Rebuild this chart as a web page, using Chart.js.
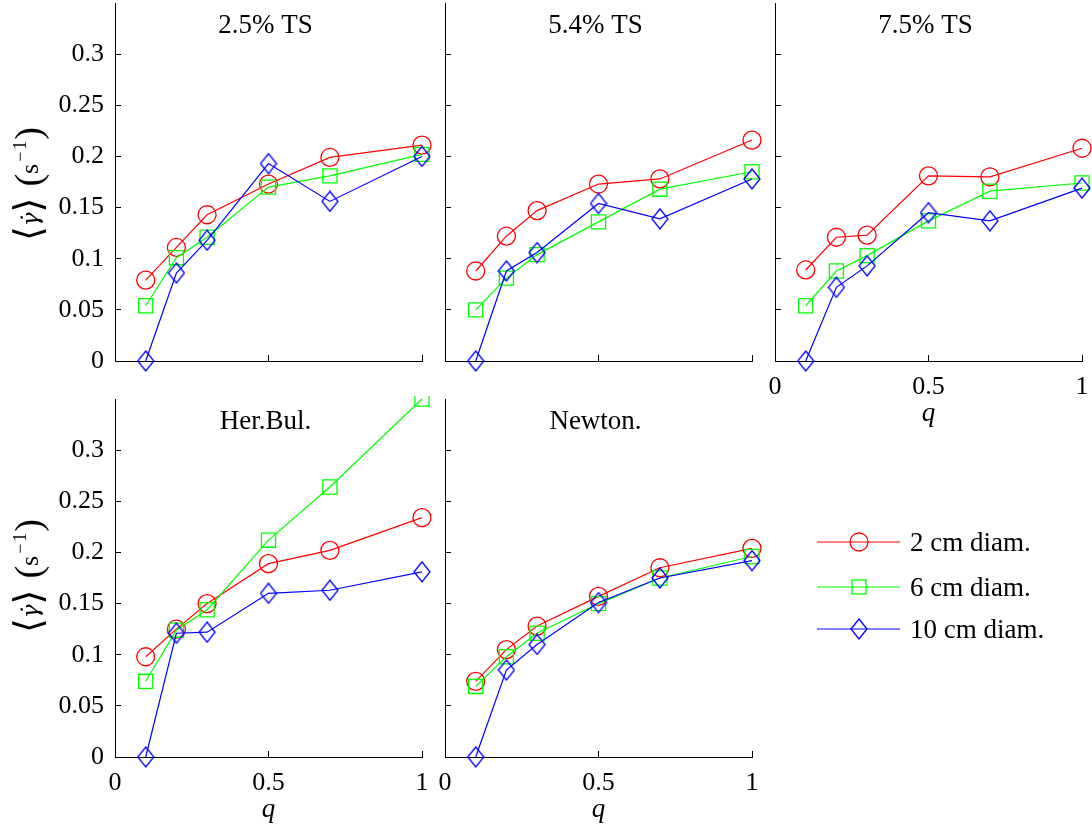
<!DOCTYPE html>
<html>
<head>
<meta charset="utf-8">
<script src="https://cdn.jsdelivr.net/npm/chart.js@4.4.0/dist/chart.umd.min.js"></script>
<style>
  html, body { margin: 0; padding: 0; background: #fff; }
  #wrap { position: relative; width: 1092px; height: 830px; overflow: hidden; }
  #wrap canvas { position: absolute; }
</style>
</head>
<body>
<div id="wrap"></div>
<script>
// ---- data ----
const Q = [0.1, 0.2, 0.3, 0.5, 0.7, 1.0];
const X_TICKS = [0, 0.5, 1];
const Y_TICKS = [0, 0.05, 0.1, 0.15, 0.2, 0.25, 0.3];
const SERIES_NAMES = ['2 cm diam.', '6 cm diam.', '10 cm diam.'];
const PANEL_TITLES = ['2.5% TS', '5.4% TS', '7.5% TS', 'Her.Bul.', 'Newton.'];

const ts25_d2  = [0.079, 0.111, 0.143, 0.173, 0.199, 0.211];
const ts25_d6  = [0.054, 0.101, 0.121, 0.170, 0.181, 0.202];
const ts25_d10 = [0.000, 0.086, 0.118, 0.193, 0.156, 0.200];

const ts54_d2  = [0.088, 0.122, 0.147, 0.173, 0.178, 0.216];
const ts54_d6  = [0.050, 0.081, 0.104, 0.136, 0.168, 0.185];
const ts54_d10 = [0.000, 0.088, 0.106, 0.154, 0.139, 0.178];

const ts75_d2  = [0.089, 0.121, 0.123, 0.181, 0.180, 0.208];
const ts75_d6  = [0.054, 0.088, 0.103, 0.137, 0.166, 0.174];
const ts75_d10 = [0.000, 0.072, 0.093, 0.145, 0.137, 0.169];

const herbul_d2  = [0.098, 0.125, 0.150, 0.189, 0.202, 0.234];
const herbul_d6  = [0.074, 0.124, 0.144, 0.212, 0.264, 0.350];
const herbul_d10 = [0.000, 0.121, 0.122, 0.160, 0.163, 0.181];

const newton_d2  = [0.074, 0.105, 0.128, 0.157, 0.185, 0.204];
const newton_d6  = [0.069, 0.098, 0.121, 0.150, 0.175, 0.196];
const newton_d10 = [0.000, 0.085, 0.110, 0.151, 0.175, 0.192];

// ---- style ----
const FONT = '"Liberation Serif", "Times New Roman", serif';
const COLORS = ['#ff0000', '#00ff00', '#0000ff'];
const PW = 307, PH = 357.5;   // plot area size

function diamondImg(color, w, h) {
  const c = document.createElement('canvas');
  c.width = w; c.height = h;
  const g = c.getContext('2d');
  g.strokeStyle = color; g.lineWidth = 1.3;
  g.beginPath();
  g.moveTo(w / 2, 1); g.lineTo(w - 1, h / 2); g.lineTo(w / 2, h - 1); g.lineTo(1, h / 2);
  g.closePath(); g.stroke();
  return c;
}
const DIAMOND = diamondImg('#0000ff', 18, 22);
const MARKERS = [
  { pointStyle: 'circle', pointRadius: 9 },
  { pointStyle: 'rect', pointRadius: 10 },
  { pointStyle: DIAMOND, pointRadius: 10 }
];

const panels = [
  { x: 115,   y: 3,   yW: 115, xH: 20, yLab: true,  xLab: false, title: PANEL_TITLES[0], data: [ts25_d2, ts25_d6, ts25_d10], labCY: 184 },
  { x: 444.5, y: 3,   yW: 20,  xH: 20, yLab: false, xLab: false, title: PANEL_TITLES[1], data: [ts54_d2, ts54_d6, ts54_d10] },
  { x: 775,   y: 3,   yW: 20,  xH: 70, yLab: false, xLab: true,  title: PANEL_TITLES[2], data: [ts75_d2, ts75_d6, ts75_d10] },
  { x: 115,   y: 399, yW: 115, xH: 70, yLab: true,  xLab: true,  title: PANEL_TITLES[3], data: [herbul_d2, herbul_d6, herbul_d10], labCY: 576 },
  { x: 444.5, y: 399, yW: 20,  xH: 70, yLab: false, xLab: true,  title: PANEL_TITLES[4], data: [newton_d2, newton_d6, newton_d10] }
];

const wrap = document.getElementById('wrap');

function zeroPad(s) { s.paddingLeft = 0; s.paddingRight = 0; s.paddingTop = 0; s.paddingBottom = 0; }

function drawYLabel(ctx, px, py) {
  // rotated label: <gamma-dot> (s^-1)
  const pieces = [
    { t: '\u27E8', f: '38px "DejaVu Serif", serif', dy: 3 },
    { t: '\u03B3\u0307', f: 'italic 23px "DejaVu Serif", serif', dy: 0 },
    { t: '\u27E9', f: '38px "DejaVu Serif", serif', dy: 3, gap: 11 },
    { t: '(', f: '38px ' + FONT, dy: 3 },
    { t: 's', f: '26px ' + FONT, dy: 0, gap: 2 },
    { t: '\u2212', f: '18px ' + FONT, dy: -12, gap: 2 },
    { t: '1', f: '18px ' + FONT, dy: -12, gap: 1 },
    { t: ')', f: '38px ' + FONT, dy: 3 }
  ];
  let total = 0;
  pieces.forEach(p => { ctx.font = p.f; p.w = ctx.measureText(p.t).width; total += p.w + (p.gap || 0); });
  ctx.save();
  ctx.translate(px, py);
  ctx.rotate(-Math.PI / 2);
  ctx.fillStyle = '#000';
  ctx.textBaseline = 'alphabetic';
  ctx.textAlign = 'left';
  let x = -total / 2;
  pieces.forEach(p => { ctx.font = p.f; ctx.fillText(p.t, x, p.dy); x += p.w + (p.gap || 0); });
  ctx.restore();
}

panels.forEach(p => {
  const cw = Math.round(p.yW + PW + 14), ch = Math.round(3 + PH + p.xH);
  const left = p.x - p.yW, top = p.y - 3;
  const canvas = document.createElement('canvas');
  canvas.width = cw; canvas.height = ch;
  canvas.style.left = left + 'px'; canvas.style.top = top + 'px';
  canvas.style.width = cw + 'px'; canvas.style.height = ch + 'px';
  wrap.appendChild(canvas);

  const decor = {
    id: 'decor',
    afterDraw(chart) {
      const ctx = chart.ctx, a = chart.chartArea;
      ctx.save();
      ctx.font = '27px ' + FONT;
      ctx.fillStyle = '#000';
      ctx.textAlign = 'center';
      ctx.textBaseline = 'alphabetic';
      ctx.fillText(p.title, (a.left + a.right) / 2 - 3, a.top + 30);
      ctx.restore();
      if (p.yLab) drawYLabel(ctx, 38 - left, p.labCY - top);
    }
  };

  new Chart(canvas, {
    type: 'line',
    data: {
      datasets: p.data.map((vals, i) => Object.assign({
        label: SERIES_NAMES[i],
        data: Q.map((q, k) => ({ x: q, y: vals[k] })),
        borderColor: COLORS[i],
        backgroundColor: 'rgba(0,0,0,0)',
        pointBorderColor: COLORS[i],
        pointBackgroundColor: 'rgba(0,0,0,0)',
        borderWidth: 1.2,
        pointBorderWidth: 1.3,
        tension: 0,
        clip: false,
        order: 2 - i
      }, MARKERS[i]))
    },
    options: {
      responsive: false,
      animation: false,
      devicePixelRatio: 1,
      layout: { autoPadding: false, padding: { top: 3, right: 14, left: 0, bottom: 0 } },
      plugins: { legend: { display: false }, tooltip: { enabled: false } },
      scales: {
        x: {
          type: 'linear', min: 0, max: 1,
          afterBuildTicks: s => { s.ticks = X_TICKS.map(v => ({ value: v })); },
          afterFit: s => { s.height = p.xH; zeroPad(s); },
          grid: { drawOnChartArea: false, drawTicks: true, tickLength: -6, color: '#000', lineWidth: 1 },
          border: { color: '#000', width: 1 },
          ticks: { display: p.xLab, color: '#000', font: { family: FONT, size: 26 }, padding: 17, maxRotation: 0, autoSkip: false, callback: v => String(v) },
          title: { display: p.xLab, text: 'q', color: '#000', font: { family: FONT, size: 27, style: 'italic' }, padding: { top: 0, bottom: 1 } }
        },
        y: {
          type: 'linear', min: 0, max: 0.35,
          afterBuildTicks: s => { s.ticks = Y_TICKS.map(v => ({ value: v })); },
          afterFit: s => { s.width = p.yW; zeroPad(s); },
          grid: { drawOnChartArea: false, drawTicks: true, tickLength: -6, color: '#000', lineWidth: 1 },
          border: { color: '#000', width: 1 },
          ticks: { display: p.yLab, color: '#000', font: { family: FONT, size: 26 }, padding: 17, autoSkip: false, callback: v => String(v) }
        }
      }
    },
    plugins: [decor]
  });
});

// ---- legend ----
(function () {
  const c = document.createElement('canvas');
  const L = 800, T = 515, W = 292, H = 140;
  c.width = W; c.height = H;
  c.style.left = L + 'px'; c.style.top = T + 'px';
  c.style.width = W + 'px'; c.style.height = H + 'px';
  wrap.appendChild(c);
  const g = c.getContext('2d');
  const rows = [27, 72, 114];
  SERIES_NAMES.forEach((name, i) => {
    const y = rows[i];
    g.strokeStyle = COLORS[i];
    g.lineWidth = 1.2;
    g.beginPath(); g.moveTo(17, y); g.lineTo(100, y); g.stroke();
    g.lineWidth = 1.3;
    if (i === 0) { g.beginPath(); g.arc(59, y, 9, 0, Math.PI * 2); g.stroke(); }
    if (i === 1) { g.strokeRect(59 - 7, y - 7, 14, 14); }
    if (i === 2) { g.drawImage(DIAMOND, 59 - DIAMOND.width / 2, y - DIAMOND.height / 2); }
    g.fillStyle = '#000';
    g.font = '27px ' + FONT;
    g.textBaseline = 'middle';
    g.textAlign = 'left';
    g.fillText(name, 110, y + 2);
  });
})();
</script>
</body>
</html>
